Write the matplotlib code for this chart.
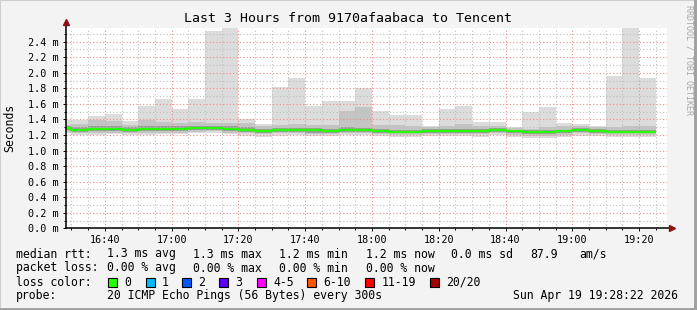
import numpy as np
import pandas as pd
import matplotlib
matplotlib.use("Agg")
import matplotlib.pyplot as plt
from matplotlib.ticker import FuncFormatter, MultipleLocator
from matplotlib.patches import Rectangle
from matplotlib.lines import Line2D

# 5 minute slots (start of each slot)
slots = ["16:25", "16:30", "16:35", "16:40", "16:45", "16:50", "16:55", "17:00", "17:05",
         "17:10", "17:15", "17:20", "17:25", "17:30", "17:35", "17:40", "17:45", "17:50",
         "17:55", "18:00", "18:05", "18:10", "18:15", "18:20", "18:25", "18:30", "18:35",
         "18:40", "18:45", "18:50", "18:55", "19:00", "19:05", "19:10", "19:15", "19:20"]

# rtt in ms
rtt_max = [1.39, 1.39, 1.44, 1.47, 1.38, 1.57, 1.66, 1.53, 1.66, 2.54, 2.65, 1.40,
           1.34, 1.82, 1.93, 1.57, 1.64, 1.64, 1.80, 1.51, 1.46, 1.46, 1.32, 1.53,
           1.57, 1.37, 1.37, 1.30, 1.50, 1.56, 1.36, 1.34, 1.32, 1.96, 2.65, 1.93]
rtt_p90 = [1.33, 1.34, 1.39, 1.38, 1.33, 1.39, 1.37, 1.36, 1.37, 1.36, 1.35, 1.36,
           1.31, 1.33, 1.34, 1.33, 1.33, 1.51, 1.56, 1.33, 1.33, 1.31, 1.30, 1.32,
           1.34, 1.31, 1.32, 1.29, 1.28, 1.30, 1.31, 1.31, 1.30, 1.30, 1.31, 1.31]
rtt_p75 = [1.31, 1.30, 1.31, 1.31, 1.30, 1.31, 1.31, 1.31, 1.32, 1.32, 1.31, 1.30,
           1.28, 1.29, 1.29, 1.29, 1.28, 1.30, 1.29, 1.28, 1.27, 1.27, 1.28, 1.28,
           1.28, 1.28, 1.29, 1.27, 1.26, 1.26, 1.27, 1.29, 1.28, 1.27, 1.27, 1.27]
rtt_med = [1.286, 1.264, 1.277, 1.277, 1.264, 1.277, 1.277, 1.277, 1.290, 1.294, 1.277, 1.264,
           1.251, 1.260, 1.264, 1.258, 1.251, 1.268, 1.260, 1.250, 1.238, 1.238, 1.255, 1.247,
           1.255, 1.255, 1.260, 1.247, 1.238, 1.238, 1.247, 1.260, 1.247, 1.234, 1.234, 1.234]
rtt_p25 = [1.26, 1.24, 1.25, 1.25, 1.24, 1.25, 1.25, 1.25, 1.26, 1.27, 1.25, 1.24,
           1.23, 1.24, 1.24, 1.23, 1.23, 1.24, 1.24, 1.23, 1.22, 1.22, 1.23, 1.23,
           1.23, 1.23, 1.24, 1.22, 1.21, 1.21, 1.22, 1.24, 1.23, 1.22, 1.22, 1.22]
rtt_p10 = [1.24, 1.22, 1.23, 1.23, 1.22, 1.23, 1.23, 1.23, 1.24, 1.25, 1.23, 1.22,
           1.21, 1.22, 1.22, 1.21, 1.21, 1.22, 1.22, 1.21, 1.20, 1.20, 1.21, 1.21,
           1.21, 1.21, 1.22, 1.20, 1.19, 1.19, 1.20, 1.22, 1.21, 1.20, 1.20, 1.20]
rtt_min = [1.22, 1.20, 1.20, 1.21, 1.20, 1.20, 1.21, 1.21, 1.22, 1.22, 1.21, 1.19,
           1.18, 1.19, 1.20, 1.19, 1.19, 1.20, 1.20, 1.19, 1.18, 1.18, 1.19, 1.19,
           1.19, 1.18, 1.20, 1.18, 1.16, 1.16, 1.18, 1.19, 1.19, 1.18, 1.18, 1.18]

loss_labels = ["0", "1", "2", "3", "4-5", "6-10", "11-19", "20/20"]
loss_colors = ["#26ff00", "#00b8ff", "#0059ff", "#5e00ff", "#ff00ff", "#ff5500", "#ff0000", "#a10000"]

W, H = 697, 310
plt.rcParams['font.family'] = 'DejaVu Sans Mono'

def mins(s):
    h, m = s.split(":")
    return (int(h) - 16) * 60 + int(m)

x = np.array([mins(s) for s in slots], dtype=float)
edges = np.append(x, x[-1] + 5)

fig = plt.figure(figsize=(W / 100, H / 100), dpi=100)
fig.patch.set_facecolor("#f3f3f3")
# frame shading
fig.add_artist(Rectangle((0, 0), 1, 1, transform=fig.transFigure, fill=False,
                         edgecolor="#cfcfcf", linewidth=1.5))
fig.add_artist(Line2D([0, 1], [0.003, 0.003], transform=fig.transFigure, color="#9e9e9e", lw=2))
fig.add_artist(Line2D([0.997, 0.997], [0, 1], transform=fig.transFigure, color="#9e9e9e", lw=2))

ax = fig.add_axes([66 / W, (H - 228.3) / H, 601 / W, 200.3 / H])
ax.set_facecolor("white")

# smoke
ax.stairs(rtt_max, edges, baseline=rtt_min, fill=True, color="#dcdcdc", zorder=1)
ax.stairs(rtt_p90, edges, baseline=rtt_p10, fill=True, color="#c4c4c4", zorder=1)
ax.stairs(rtt_p75, edges, baseline=rtt_p25, fill=True, color="#9c9c9c", zorder=1)
ax.stairs(rtt_med, edges, baseline=None, color="#26ff00", linewidth=1.6, zorder=4)

ax.set_xlim(28 + 22 / 60, 208 + 22 / 60)
ax.set_ylim(0, 2.576)

ax.xaxis.set_major_locator(MultipleLocator(20))
ax.xaxis.set_minor_locator(MultipleLocator(5))
ax.yaxis.set_major_locator(MultipleLocator(0.2))
ax.yaxis.set_minor_locator(MultipleLocator(0.1))
ax.xaxis.set_major_formatter(FuncFormatter(lambda v, p: "%d:%02d" % (16 + int(v) // 60, int(v) % 60)))
ax.yaxis.set_major_formatter(FuncFormatter(lambda v, p: "%.1f m" % v))

ax.set_axisbelow(False)
ax.grid(which="minor", color="#c0c0c0", linestyle=(0, (1, 2)), linewidth=0.8)
ax.grid(which="major", color="#f08c8c", linestyle=(0, (1, 2)), linewidth=0.8)
for gl in ax.get_xgridlines() + ax.get_ygridlines():
    gl.set_zorder(2)

for s in ["top", "right", "left", "bottom"]:
    ax.spines[s].set_visible(False)
ax.tick_params(which="both", colors="black", labelsize=7.3, direction="out")
ax.tick_params(which="major", length=2.5, width=0.7, pad=2.5)
ax.tick_params(which="minor", length=1.5, width=0.7)

# axes with arrows
ax.add_line(Line2D([0, 1.006], [0, 0], transform=ax.transAxes, color="black", lw=1.1, clip_on=False, zorder=5))
ax.add_line(Line2D([0, 0], [0, 1.025], transform=ax.transAxes, color="black", lw=1.1, clip_on=False, zorder=5))
ax.plot([1.009], [0], marker=">", color="#8b1010", markersize=5, transform=ax.transAxes, clip_on=False, zorder=6)
ax.plot([0], [1.028], marker="^", color="#8b1010", markersize=5, transform=ax.transAxes, clip_on=False, zorder=6)

fig.text(0.499, 1 - 19 / H, "Last 3 Hours from 9170afaabaca to Tencent", ha="center", va="center", fontsize=9.5)
fig.text(10 / W, 1 - 128 / H, "Seconds", rotation=90, ha="center", va="center", fontsize=8.3)
fig.text(689 / W, 1 - 60 / H, "RRDTOOL / TOBI OETIKER", rotation=270, ha="center", va="center",
         fontsize=6, color="#a8a8a8")

fs = 8.3
def t(px, py, s):
    fig.text(px / W, 1 - py / H, s, ha="left", va="center", fontsize=fs)

r1, r2, r3, r4 = 254, 268, 282, 296
t(16, r1, "median rtt:")
for px, s in [(107, "1.3 ms avg"), (193, "1.3 ms max"), (279, "1.2 ms min"), (366, "1.2 ms now"),
              (451, "0.0 ms sd"), (530, "87.9"), (579, "am/s")]:
    t(px, r1, s)
t(16, r2, "packet loss:")
for px, s in [(107, "0.00 % avg"), (193, "0.00 % max"), (279, "0.00 % min"), (366, "0.00 % now")]:
    t(px, r2, s)
t(16, r3, "loss color:")
box_x = [108, 145.5, 182, 219, 256.5, 306.5, 365, 430]
for bx, lab, col in zip(box_x, loss_labels, loss_colors):
    fig.add_artist(Rectangle((bx / W, 1 - (r3 + 4.5) / H), 9 / W, 9 / H, transform=fig.transFigure,
                             facecolor=col, edgecolor="black", linewidth=0.8))
    t(bx + 16.5, r3, lab)
t(16, r4, "probe:")
t(107, r4, "20 ICMP Echo Pings (56 Bytes) every 300s")
t(513, r4, "Sun Apr 19 19:28:22 2026")

fig.savefig("out.png", dpi=100, facecolor=fig.get_facecolor())
